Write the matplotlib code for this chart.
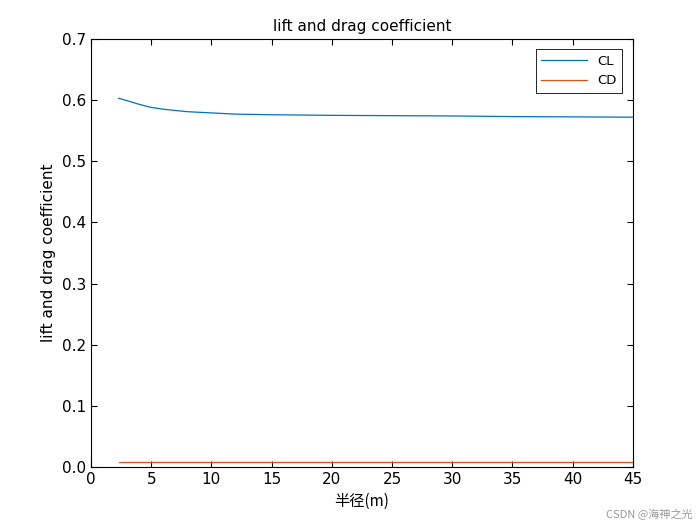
import matplotlib
matplotlib.use("Agg")
import matplotlib.pyplot as plt

plt.rcParams['font.family'] = ['DejaVu Sans', 'Noto Sans CJK SC']

radius = [2.3, 3, 4, 5, 6, 7, 8, 10, 12, 15, 20, 25, 30, 35, 40, 45]
cl = [0.603, 0.599, 0.593, 0.588, 0.585, 0.583, 0.581, 0.579, 0.577, 0.576, 0.575, 0.5745, 0.574, 0.573, 0.5725, 0.572]
cd = [0.009, 0.009, 0.009, 0.009, 0.009, 0.009, 0.009, 0.009, 0.009, 0.009, 0.009, 0.009, 0.009, 0.009, 0.009, 0.009]

fig = plt.figure(figsize=(7, 5.25), dpi=100, facecolor="white")
ax = fig.add_axes([0.13, 0.11, 0.774, 0.816])
ax.plot(radius, cl, color="#0072BD", lw=0.9, label="CL")
ax.plot(radius, cd, color="#D95319", lw=0.9, label="CD")
ax.set_xlim(0, 45)
ax.set_ylim(0, 0.7)
ax.set_xticks(range(0, 46, 5))
ax.set_yticks([i / 10 for i in range(8)])
ax.tick_params(direction="in", top=True, right=True, labelsize=11, length=4)
ax.set_title("lift and drag coefficient", fontsize=11)
ax.set_ylabel("lift and drag coefficient", fontsize=11)
ax.set_xlabel("半径(m)", fontsize=11, family=["Noto Sans CJK SC", "DejaVu Sans"])
leg = ax.legend(loc="upper right", fontsize=9.5, fancybox=False, edgecolor="black",
                framealpha=1, handlelength=3.5, borderaxespad=0.8)
leg.get_frame().set_linewidth(0.6)
fig.text(0.99, 0.01, "CSDN @海神之光", ha="right", va="bottom", fontsize=8,
         color="#999999", family=["Noto Sans CJK SC", "DejaVu Sans"])
fig.savefig("out.png", facecolor="white")
